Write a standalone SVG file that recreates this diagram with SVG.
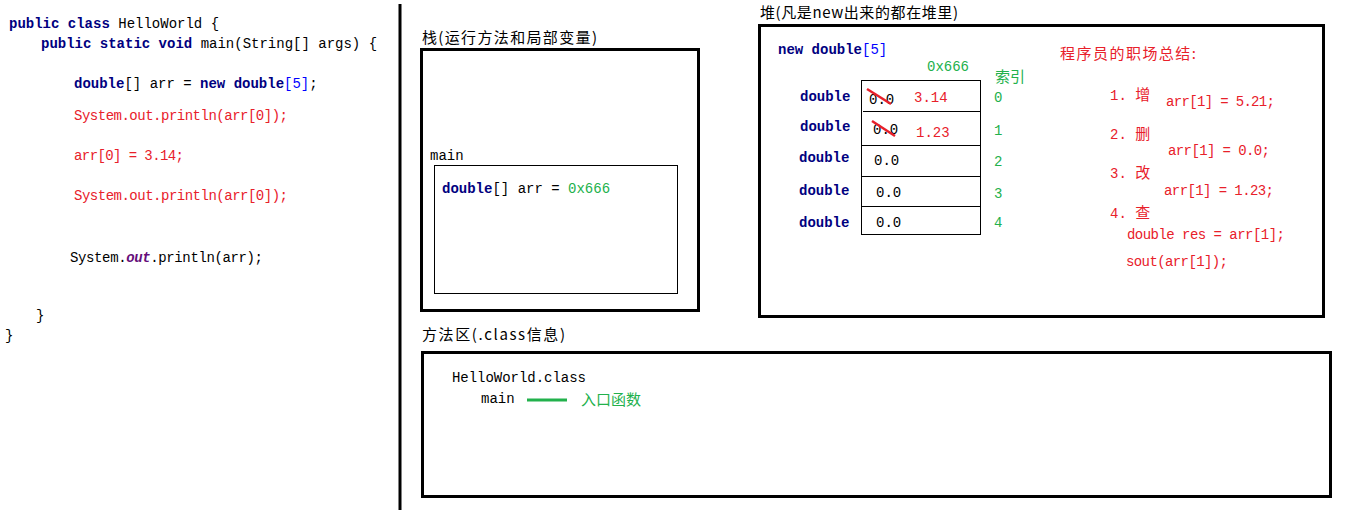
<svg xmlns="http://www.w3.org/2000/svg" width="1360" height="510" viewBox="0 0 1360 510">
<style>
.c{font-family:"Liberation Mono","Noto Sans CJK SC",monospace;font-size:14px;fill:#000}
.t{font-family:"Noto Sans CJK SC","Liberation Sans",sans-serif;font-size:15px;fill:#000}
.k{font-weight:bold;fill:#000080}
.r{fill:#e8202a}
.g{fill:#22b14c}
.b{fill:#0000ff}
.o{font-weight:bold;font-style:italic;fill:#660e7a}
.box{fill:none;stroke:#000;stroke-width:3}
.thin{fill:none;stroke:#000;stroke-width:1}
.strike{stroke:#e8202a;stroke-width:2.5}
</style>
<g id="code">
<text class="c" x="9" y="28"><tspan class="k">public class</tspan> HelloWorld {</text>
<text class="c" x="41" y="48"><tspan class="k">public static void</tspan> main(String[] args) {</text>
<text class="c" x="74" y="88"><tspan class="k">double</tspan>[] arr = <tspan class="k">new double</tspan><tspan class="b">[5]</tspan>;</text>
<text class="c r" x="74" y="120" textLength="214">System.out.println(arr[0]);</text>
<text class="c r" x="74" y="160" textLength="110">arr[0] = 3.14;</text>
<text class="c r" x="74" y="200" textLength="214">System.out.println(arr[0]);</text>
<text class="c" x="70" y="262" textLength="193">System.<tspan class="o">out</tspan>.println(arr);</text>
<text class="c" x="36" y="320">}</text>
<text class="c" x="5" y="340">}</text>
</g>
<g id="divider"><line x1="400" y1="4" x2="400" y2="510" stroke="#000" stroke-width="3"/></g>
<g id="stack">
<text class="t" x="422" y="43" textLength="175">栈(运行方法和局部变量)</text>
<rect class="box" x="421.5" y="49.5" width="277" height="261"/>
<text class="c" x="430" y="160">main</text>
<rect class="thin" x="434.5" y="165.5" width="243" height="128"/>
<text class="c" x="442" y="193"><tspan class="k">double</tspan>[] arr = <tspan class="g">0x666</tspan></text>
</g>
<g id="heap">
<text class="t" x="760" y="18" textLength="198">堆(凡是new出来的都在堆里)</text>
<rect class="box" x="759.5" y="25.5" width="564" height="291"/>
<text class="c" x="778" y="54"><tspan class="k">new double</tspan><tspan class="b">[5]</tspan></text>
<text class="c g" x="927" y="71">0x666</text>
<text class="t g" x="995" y="82" font-size="16">索引</text>
<rect class="thin" x="861.5" y="80.5" width="119" height="154"/>
<line class="thin" x1="863" y1="111.5" x2="980" y2="111.5"/>
<line class="thin" x1="861" y1="145.5" x2="980" y2="145.5"/>
<line class="thin" x1="861" y1="176.5" x2="980" y2="176.5"/>
<line class="thin" x1="861" y1="206.5" x2="980" y2="206.5"/>
<text class="c k" x="800" y="101">double</text>
<text class="c k" x="800" y="131">double</text>
<text class="c k" x="799" y="162">double</text>
<text class="c k" x="799" y="195">double</text>
<text class="c k" x="799" y="227">double</text>
<text class="c" x="869" y="104">0.0</text>
<text class="c r" x="914" y="102">3.14</text>
<line class="strike" x1="867" y1="89" x2="891" y2="104"/>
<text class="c" x="873" y="134">0.0</text>
<text class="c r" x="916" y="137">1.23</text>
<line class="strike" x1="872" y1="121" x2="895" y2="136"/>
<text class="c" x="874" y="165">0.0</text>
<text class="c" x="876" y="197">0.0</text>
<text class="c" x="876" y="227">0.0</text>
<text class="c g" x="994" y="102">0</text>
<text class="c g" x="994" y="135">1</text>
<text class="c g" x="994" y="166">2</text>
<text class="c g" x="994" y="198">3</text>
<text class="c g" x="994" y="227">4</text>
<text class="t r" x="1060" y="59" textLength="136">程序员的职场总结:</text>
<text class="c r" x="1110" y="100">1. <tspan font-family="Noto Sans CJK SC,sans-serif" font-size="15">增</tspan></text>
<text class="c r" x="1166" y="106" textLength="109">arr[1] = 5.21;</text>
<text class="c r" x="1110" y="139">2. <tspan font-family="Noto Sans CJK SC,sans-serif" font-size="15">删</tspan></text>
<text class="c r" x="1168" y="155" textLength="102">arr[1] = 0.0;</text>
<text class="c r" x="1110" y="178">3. <tspan font-family="Noto Sans CJK SC,sans-serif" font-size="15">改</tspan></text>
<text class="c r" x="1164" y="195" textLength="110">arr[1] = 1.23;</text>
<text class="c r" x="1110" y="218">4. <tspan font-family="Noto Sans CJK SC,sans-serif" font-size="15">查</tspan></text>
<text class="c r" x="1127" y="239" textLength="158">double res = arr[1];</text>
<text class="c r" x="1126" y="266" textLength="102">sout(arr[1]);</text>
</g>
<g id="method-area">
<text class="t" x="422" y="340" textLength="143">方法区(.class信息)</text>
<rect class="box" x="422.5" y="352.5" width="908" height="144"/>
<text class="c" x="452" y="382" textLength="134">HelloWorld.class</text>
<text class="c" x="481" y="403">main</text>
<text class="t g" x="581" y="405" font-size="16">入口函数</text>
</g>
<g id="connectors">
<line x1="527" y1="400" x2="567" y2="400" stroke="#22b14c" stroke-width="3"/>
</g>
</svg>
